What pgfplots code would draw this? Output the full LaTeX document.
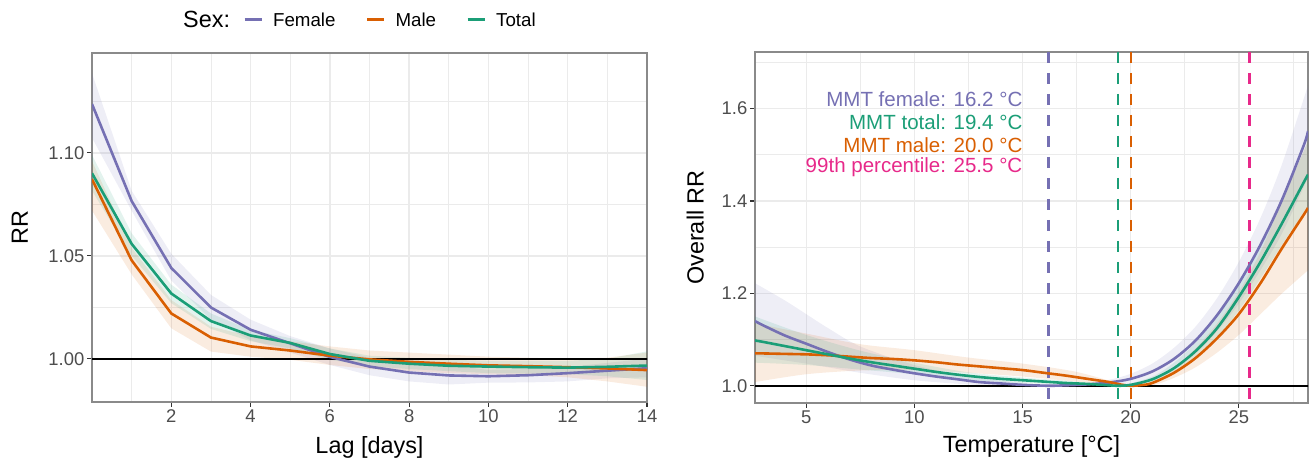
\documentclass[border=0pt]{standalone}
\usepackage{fontspec}
\setmainfont{Liberation Sans}
\usepackage{pgfplots}
\usepackage{pgfplotstable}
\pgfplotsset{compat=1.18}
\usepgfplotslibrary{fillbetween}

\definecolor{colF}{HTML}{7570B3}
\definecolor{colM}{HTML}{D95F02}
\definecolor{colT}{HTML}{1B9E77}
\definecolor{colP}{HTML}{E7298A}
\definecolor{gridcol}{HTML}{EBEBEB}
\definecolor{bordercol}{HTML}{8A8A8A}
\definecolor{tickcol}{HTML}{333333}
\definecolor{ticktext}{HTML}{4D4D4D}

% Lag-response (left panel)
\pgfplotstableread{
lag F Flo Fhi M Mlo Mhi T Tlo Thi
0 1.1237 1.1073 1.1387 1.0872 1.0720 1.0960 1.0901 1.0816 1.0990
1 1.0766 1.0719 1.0816 1.0478 1.0410 1.0540 1.0558 1.0500 1.0610
2 1.0441 1.0380 1.0510 1.0220 1.0148 1.0285 1.0317 1.0270 1.0360
3 1.0249 1.0190 1.0310 1.0103 1.0035 1.0156 1.0183 1.0145 1.0220
4 1.0141 1.0090 1.0190 1.0060 1.0010 1.0110 1.0113 1.0085 1.0140
5 1.0075 1.0030 1.0110 1.0040 0.9995 1.0085 1.0077 1.0050 1.0100
6 1.0009 0.9970 1.0050 1.0015 0.9970 1.0060 1.0023 0.9995 1.0050
7 0.9962 0.9920 1.0005 0.9997 0.9950 1.0040 0.9990 0.9965 1.0015
8 0.9933 0.9890 0.9980 0.9985 0.9940 1.0030 0.9976 0.9950 1.0005
9 0.9919 0.9875 0.9970 0.9976 0.9930 1.0020 0.9966 0.9940 0.9995
10 0.9915 0.9884 0.9945 0.9968 0.9925 1.0010 0.9962 0.9930 0.9990
11 0.9920 0.9885 0.9950 0.9964 0.9920 1.0005 0.9959 0.9928 0.9990
12 0.9930 0.9890 0.9960 0.9959 0.9910 1.0000 0.9957 0.9925 0.9990
13 0.9942 0.9905 0.9980 0.9953 0.9890 1.0005 0.9961 0.9915 1.0000
14 0.9954 0.9910 1.0000 0.9945 0.9864 1.0030 0.9967 0.9897 1.0036
}\lagdata

% Overall exposure-response (right panel)
\pgfplotstableread{
t rr
2.63 1.140
3 1.131
4 1.109
5 1.091
6 1.073
7 1.057
8 1.044
9 1.035
10 1.027
11 1.020
12 1.014
13 1.008
14 1.005
15 1.002
16.2 1.000
17 1.001
18 1.003
19 1.007
20 1.015
21 1.031
22 1.058
23 1.098
24 1.153
25 1.222
26 1.305
27 1.403
28 1.520
28.2 1.551
}\femcurve

\pgfplotstableread{
t rr
2.63 1.070
3 1.070
4 1.069
5 1.068
6 1.066
7 1.063
8 1.060
9 1.058
10 1.055
11 1.051
12 1.046
13 1.042
14 1.038
15 1.034
16 1.028
17 1.022
18 1.015
19 1.008
19.5 1.003
20 1.000
20.5 1.0015
21 1.006
22 1.028
23 1.060
24 1.103
25 1.155
26 1.222
27 1.298
28 1.370
28.2 1.385
}\malcurve

\pgfplotstableread{
t rr
2.63 1.098
3 1.095
4 1.086
5 1.077
6 1.068
7 1.059
8 1.051
9 1.044
10 1.037
11 1.030
12 1.024
13 1.019
14 1.015
15 1.012
16 1.009
17 1.006
18 1.004
19 1.001
19.4 1.000
20 1.002
21 1.014
22 1.038
23 1.075
24 1.125
25 1.192
26 1.268
27 1.352
28 1.440
28.2 1.457
}\totcurve

\pgfplotstableread{
t lo hi
2.63 1.065 1.222
4 1.055 1.185
5 1.048 1.155
6 1.040 1.125
7.5 1.028 1.085
10 1.012 1.045
12.5 1.003 1.020
15 0.999 1.006
16.2 1.000 1.000
17.5 0.999 1.004
19 1.000 1.013
20 1.004 1.026
21 1.015 1.048
22 1.036 1.082
23 1.070 1.128
24 1.118 1.190
25 1.178 1.268
26 1.250 1.363
27 1.330 1.480
28.2 1.450 1.650
}\femband

\pgfplotstableread{
t lo hi
2.63 1.008 1.135
5 1.025 1.113
7.5 1.033 1.090
10 1.034 1.077
12.5 1.028 1.061
15 1.020 1.048
17.5 1.009 1.030
20 1.000 1.000
21 1.001 1.011
22 1.017 1.040
23 1.040 1.081
24 1.072 1.135
25 1.110 1.203
26 1.155 1.290
27 1.200 1.400
28.2 1.250 1.530
}\malband

\pgfplotstableread{
t lo hi
2.63 1.050 1.150
5 1.045 1.110
7.5 1.035 1.076
10 1.025 1.050
12.5 1.013 1.029
15 1.006 1.018
17.5 1.002 1.009
19.4 1.000 1.000
21 1.008 1.020
22 1.027 1.050
23 1.058 1.093
24 1.103 1.148
25 1.163 1.222
26 1.232 1.305
27 1.305 1.400
28.2 1.390 1.530
}\totband

\pgfplotsset{
  base/.style={
    scale only axis,
    axis line style={draw=bordercol, line width=1.1bp},
    tick align=outside,
    tick pos=left,
    major tick length=5bp,
    minor tick length=0pt,
    tick style={draw=tickcol, line width=1.2bp},
    grid=both,
    major grid style={draw=gridcol, line width=1.4bp},
    minor grid style={draw=gridcol, line width=0.7bp},
    ticklabel style={font=\fontsize{18.5}{22}\selectfont, text=ticktext, inner sep=2.5bp},
    label style={font=\fontsize{23.5}{28}\selectfont, text=black},
    /pgf/number format/assume math mode=true,
    scaled ticks=false,
    clip=true,
  },
  curve/.style={line width=2.6bp},
  band/.style={draw=none, fill opacity=0.12, forget plot},
}

\begin{document}
\begin{tikzpicture}

% ---------------- Left panel ----------------
\begin{axis}[base,
  at={(92bp,63bp)}, anchor=south west,
  width=555bp, height=349bp,
  xmin=0, xmax=14, ymin=0.979, ymax=1.1485,
  xtick={2,4,6,8,10,12,14}, minor xtick={1,3,5,7,9,11,13},
  ytick={1.00,1.05,1.10}, minor ytick={1.025,1.075,1.125},
  yticklabel style={/pgf/number format/.cd, fixed, fixed zerofill, precision=2},
  xlabel={Lag [days]}, ylabel={RR},
  xlabel style={at={(axis description cs:0.5,-0.129)}, anchor=center},
  ylabel style={at={(axis description cs:-0.13,0.5)}, anchor=center},
  legend columns=4,
  legend image code/.code={\draw[#1, line width=3bp] (0bp,0bp) -- (17bp,0bp);},
  legend style={draw=none, fill=none, inner sep=0pt,
    at={(axis description cs:0.146,1.0946)}, anchor=west,
    font=\fontsize{18.8}{22}\selectfont,
    nodes={inner sep=0pt},
    /tikz/every odd column/.append style={column sep=10bp},
    /tikz/every even column/.append style={column sep=30bp}},
]
\addlegendimage{empty legend}
\addlegendentry{\fontsize{23.5}{28}\selectfont Sex:\hspace*{-17bp}}

\addplot[draw=none, forget plot, name path=lfhi] table[x=lag, y=Fhi]{\lagdata};
\addplot[draw=none, forget plot, name path=lflo] table[x=lag, y=Flo]{\lagdata};
\addplot[band, fill=colF] fill between[of=lfhi and lflo];
\addplot[draw=none, forget plot, name path=lmhi] table[x=lag, y=Mhi]{\lagdata};
\addplot[draw=none, forget plot, name path=lmlo] table[x=lag, y=Mlo]{\lagdata};
\addplot[band, fill=colM] fill between[of=lmhi and lmlo];
\addplot[draw=none, forget plot, name path=lthi] table[x=lag, y=Thi]{\lagdata};
\addplot[draw=none, forget plot, name path=ltlo] table[x=lag, y=Tlo]{\lagdata};
\addplot[band, fill=colT] fill between[of=lthi and ltlo];

\addplot[black, line width=2bp, forget plot] coordinates {(-1,1) (15,1)};

\addplot[curve, colF] table[x=lag, y=F]{\lagdata};
\addlegendentry{Female}
\addplot[curve, colM] table[x=lag, y=M]{\lagdata};
\addlegendentry{Male}
\addplot[curve, colT] table[x=lag, y=T]{\lagdata};
\addlegendentry{Total}
\end{axis}

% ---------------- Right panel ----------------
\begin{axis}[base,
  at={(755bp,62bp)}, anchor=south west,
  width=553bp, height=351bp,
  xmin=2.63, xmax=28.2, ymin=0.9627, ymax=1.7225,
  xtick={5,10,15,20,25}, minor xtick={7.5,12.5,17.5,22.5,27.5},
  ytick={1.0,1.2,1.4,1.6}, minor ytick={1.1,1.3,1.5,1.7},
  yticklabel style={/pgf/number format/.cd, fixed, fixed zerofill, precision=1},
  xlabel={Temperature [°C]}, ylabel={Overall RR},
  xlabel style={at={(axis description cs:0.5,-0.125)}, anchor=center},
  ylabel style={at={(axis description cs:-0.108,0.5)}, anchor=center},
]
\addplot[draw=none, forget plot, smooth, name path=rfhi] table[x=t, y=hi]{\femband};
\addplot[draw=none, forget plot, smooth, name path=rflo] table[x=t, y=lo]{\femband};
\addplot[band, fill=colF] fill between[of=rfhi and rflo];
\addplot[draw=none, forget plot, smooth, name path=rmhi] table[x=t, y=hi]{\malband};
\addplot[draw=none, forget plot, smooth, name path=rmlo] table[x=t, y=lo]{\malband};
\addplot[band, fill=colM] fill between[of=rmhi and rmlo];
\addplot[draw=none, forget plot, smooth, name path=rthi] table[x=t, y=hi]{\totband};
\addplot[draw=none, forget plot, smooth, name path=rtlo] table[x=t, y=lo]{\totband};
\addplot[band, fill=colT] fill between[of=rthi and rtlo];

\addplot[black, line width=2bp, forget plot] coordinates {(0,1) (30,1)};

\addplot[colF, line width=2.3bp, dash pattern=on 11bp off 10bp, forget plot] coordinates {(16.2,1.7225) (16.2,0.9)};
\addplot[colT, line width=2.3bp, dash pattern=on 11bp off 10bp, forget plot] coordinates {(19.4,1.7225) (19.4,0.9)};
\addplot[colM, line width=2.3bp, dash pattern=on 11bp off 10bp, forget plot] coordinates {(20.0,1.7225) (20.0,0.9)};
\addplot[colP, line width=2.3bp, dash pattern=on 11bp off 10bp, forget plot] coordinates {(25.5,1.7225) (25.5,0.9)};

\addplot[curve, colF, smooth] table[x=t, y=rr]{\femcurve};
\addplot[curve, colM, smooth] table[x=t, y=rr]{\malcurve};
\addplot[curve, colT, smooth] table[x=t, y=rr]{\totcurve};

\node[anchor=east, inner sep=0pt, text=colF, font=\fontsize{20.6}{24}\selectfont] at (axis cs:15,1.6195) {MMT female: 16.2 °C};
\node[anchor=east, inner sep=0pt, text=colT, font=\fontsize{20.6}{24}\selectfont] at (axis cs:15,1.5705) {MMT total: 19.4 °C};
\node[anchor=east, inner sep=0pt, text=colM, font=\fontsize{20.6}{24}\selectfont] at (axis cs:15,1.5215) {MMT male: 20.0 °C};
\node[anchor=east, inner sep=0pt, text=colP, font=\fontsize{20.6}{24}\selectfont] at (axis cs:15,1.4725) {99th percentile: 25.5 °C};
\end{axis}

\pgfresetboundingbox
\useasboundingbox (0bp,0bp) rectangle (1310bp,465bp);
\end{tikzpicture}
\end{document}
